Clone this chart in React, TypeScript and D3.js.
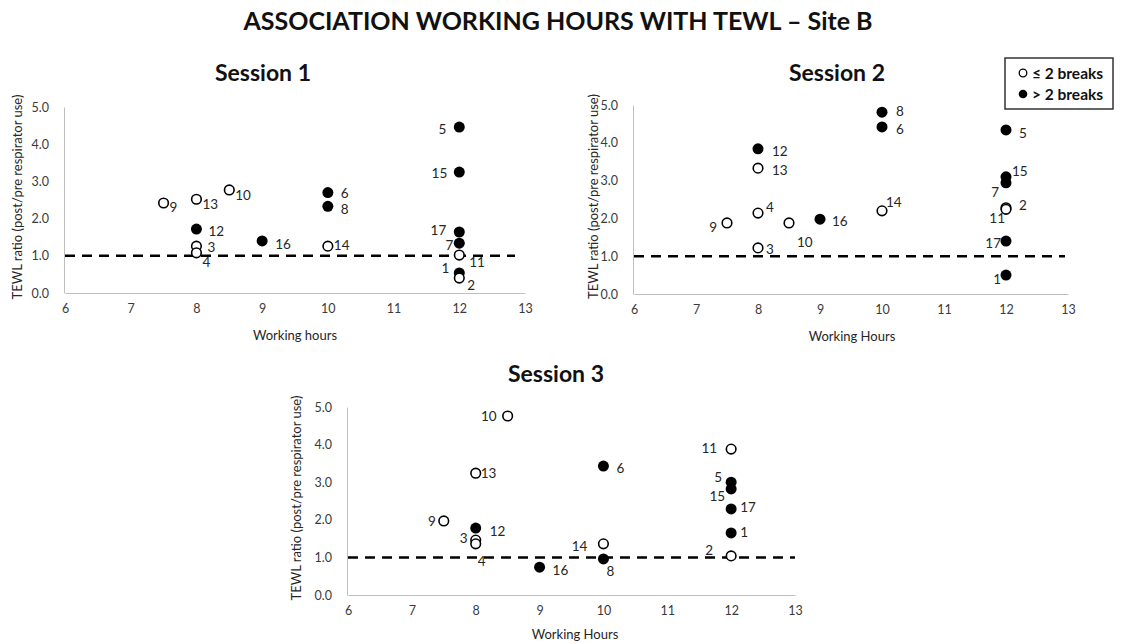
import React, { useEffect, useRef } from "react";
import * as d3 from "d3";

const width = 1124;
const height = 644;
const FONT = "Lato, 'Noto Sans', sans-serif";

const chartTitle = "ASSOCIATION WORKING HOURS WITH TEWL – Site B";
const xTicks = [6, 7, 8, 9, 10, 11, 12, 13];
const yTicks = [0, 1, 2, 3, 4, 5];
const reference = 1.0;
const legendLabels = ["≤ 2 breaks", "> 2 breaks"];

// Session 1
const ids1 = [9, 13, 10, 12, 3, 4, 16, 6, 8, 14, 5, 15, 17, 7, 11, 1, 2];
const hours1 = [7.5, 8, 8.5, 8, 8, 8, 9, 10, 10, 10, 12, 12, 12, 12, 12, 12, 12];
const tewl1 = [2.42, 2.52, 2.77, 1.72, 1.26, 1.08, 1.4, 2.7, 2.33, 1.26, 4.46, 3.25, 1.64, 1.34, 1.02, 0.54, 0.4];
const manyBreaks1 = [0, 0, 0, 1, 0, 0, 1, 1, 1, 0, 1, 1, 1, 1, 0, 1, 0];

// Session 2
const ids2 = [12, 13, 4, 3, 9, 10, 16, 8, 6, 14, 5, 15, 7, 2, 11, 17, 1];
const hours2 = [8, 8, 8, 8, 7.5, 8.5, 9, 10, 10, 10, 12, 12, 12, 12, 12, 12, 12];
const tewl2 = [3.84, 3.33, 2.14, 1.22, 1.88, 1.88, 1.98, 4.81, 4.42, 2.2, 4.34, 3.1, 2.94, 2.28, 2.24, 1.4, 0.5];
const manyBreaks2 = [1, 0, 0, 0, 0, 0, 1, 1, 1, 0, 1, 1, 1, 0, 0, 1, 1];

// Session 3
const ids3 = [10, 13, 9, 12, 3, 4, 16, 6, 14, 8, 11, 5, 15, 17, 1, 2];
const hours3 = [8.5, 8, 7.5, 8, 8, 8, 9, 10, 10, 10, 12, 12, 12, 12, 12, 12];
const tewl3 = [4.76, 3.24, 1.97, 1.78, 1.46, 1.36, 0.74, 3.43, 1.36, 0.96, 3.88, 3.0, 2.82, 2.29, 1.65, 1.04];
const manyBreaks3 = [0, 0, 0, 1, 0, 0, 1, 1, 0, 1, 0, 1, 1, 1, 1, 0];

// where each point's number sits relative to its marker: [dx, dy, anchor]
type Place = [number, number, string];
const place1: Record<number, Place> = {
  9: [6, 9, "start"], 13: [6, 10, "start"], 10: [6, 10, "start"], 12: [12, 7, "start"],
  3: [11, 6, "start"], 4: [6, 14, "start"], 16: [13, 8, "start"], 6: [13, 5, "start"],
  8: [13, 8, "start"], 14: [6, 4, "start"], 5: [-13, 7, "end"], 15: [-12, 6, "end"],
  17: [-13, 3, "end"], 7: [-6, 7, "end"], 11: [10, 12, "start"], 1: [-10, 0, "end"],
  2: [8, 12, "start"],
};
const place2: Record<number, Place> = {
  12: [14, 7, "start"], 13: [14, 7, "start"], 4: [8, -1, "start"], 3: [8, 6, "start"],
  9: [-10, 9, "end"], 10: [8, 24, "start"], 16: [12, 7, "start"], 8: [14, 4, "start"],
  6: [14, 7, "start"], 14: [4, -4, "start"], 5: [13, 8, "start"], 15: [6, -1, "start"],
  7: [-7, 14, "end"], 2: [13, 2, "start"], 11: [-1, 14, "end"], 17: [-5, 7, "end"],
  1: [-5, 9, "end"],
};
const place3: Record<number, Place> = {
  10: [-11, 5, "end"], 13: [5, 5, "start"], 9: [-8, 5, "end"], 12: [14, 8, "start"],
  3: [-8, 3, "end"], 4: [2, 22, "start"], 16: [13, 8, "start"], 6: [13, 7, "start"],
  14: [-16, 7, "end"], 8: [3, 17, "start"], 11: [-14, 4, "end"], 5: [-9, 0, "end"],
  15: [-6, 12, "end"], 17: [9, 3, "start"], 1: [9, 4, "start"], 2: [-18, -1, "end"],
};

const makePoints = (ids, hours, tewl, many) =>
  ids.map((id, i) => ({ id, hours: hours[i], tewl: tewl[i], many: many[i] === 1 }));

const panels = [
  {
    title: "Session 1", xLabel: "Working hours", points: makePoints(ids1, hours1, tewl1, manyBreaks1), place: place1,
    x0: 65, x1: 525, y0: 293, y1: 107, lineEnd: 515, titleX: 263, titleY: 81, xLabelX: 295, xLabelY: 340, yLabelX: 22,
  },
  {
    title: "Session 2", xLabel: "Working Hours", points: makePoints(ids2, hours2, tewl2, manyBreaks2), place: place2,
    x0: 634, x1: 1068, y0: 294, y1: 105, lineEnd: 1065, titleX: 837, titleY: 81, xLabelX: 852, xLabelY: 341, yLabelX: 598,
  },
  {
    title: "Session 3", xLabel: "Working Hours", points: makePoints(ids3, hours3, tewl3, manyBreaks3), place: place3,
    x0: 348, x1: 795, y0: 595, y1: 407, lineEnd: 795, titleX: 556, titleY: 382, xLabelX: 575, xLabelY: 639, yLabelX: 301,
  },
];

function Panel({ p }) {
  const xAxisRef = useRef(null);
  const yAxisRef = useRef(null);

  const xScale = d3.scaleLinear().domain([6, 13]).range([p.x0, p.x1]);
  const yScale = d3.scaleLinear().domain([0, 5]).range([p.y0, p.y1]);

  useEffect(() => {
    const xAxis = d3.axisBottom(xScale).tickValues(xTicks).tickSize(0).tickPadding(11).tickFormat(d3.format("d"));
    const gx = d3.select(xAxisRef.current).call(xAxis);
    gx.select(".domain").attr("stroke", "#bfbfbf").attr("stroke-width", 1);
    gx.selectAll("text").attr("fill", "#3a3a3a").style("font-size", "12.5px").style("font-family", FONT);

    const yAxis = d3.axisLeft(yScale).tickValues(yTicks).tickSize(0).tickPadding(15).tickFormat(d3.format(".1f"));
    const gy = d3.select(yAxisRef.current).call(yAxis);
    gy.select(".domain").attr("stroke", "#bfbfbf").attr("stroke-width", 1);
    gy.selectAll("text").attr("fill", "#3a3a3a").style("font-size", "12.5px").style("font-family", FONT);
  });

  const midY = (p.y0 + p.y1) / 2 - 3;

  return (
    <g>
      <text x={p.titleX} y={p.titleY} textAnchor="middle" fontFamily={FONT} fontWeight="bold" fontSize={23} fill="#111">
        {p.title}
      </text>
      <g ref={xAxisRef} transform={`translate(0, ${p.y0})`} />
      <g ref={yAxisRef} transform={`translate(${p.x0 - 1}, 0)`} />
      <line
        x1={p.x0}
        x2={p.lineEnd}
        y1={yScale(reference)}
        y2={yScale(reference)}
        stroke="#000"
        strokeWidth={2.5}
        strokeDasharray="10 7"
      />
      {p.points.map((d) => (
        <circle
          key={d.id}
          cx={xScale(d.hours)}
          cy={yScale(d.tewl)}
          r={d.many ? 5.5 : 4.8}
          fill={d.many ? "#000" : "#fff"}
          stroke="#000"
          strokeWidth={d.many ? 0 : 1.6}
        />
      ))}
      {p.points.map((d) => {
        const [dx, dy, anchor] = p.place[d.id];
        return (
          <text
            key={`l${d.id}`}
            x={xScale(d.hours) + dx}
            y={yScale(d.tewl) + dy}
            textAnchor={anchor}
            fontFamily={FONT}
            fontSize={13.5}
            fill="#262626"
          >
            {d.id}
          </text>
        );
      })}
      <text x={p.xLabelX} y={p.xLabelY} textAnchor="middle" fontFamily={FONT} fontSize={13} fill="#262626">
        {p.xLabel}
      </text>
      <text
        transform={`translate(${p.yLabelX}, ${midY}) rotate(-90)`}
        textAnchor="middle"
        fontFamily={FONT}
        fontSize={13}
        fill="#262626"
      >
        TEWL ratio (post/pre respirator use)
      </text>
    </g>
  );
}

export default function App() {
  return (
    <svg width={width} height={height} style={{ position: "absolute", left: 0, top: 0, background: "#fff" }}>
      <rect width={width} height={height} fill="#fff" />
      <text x={558} y={30} textAnchor="middle" fontFamily={FONT} fontWeight="bold" fontSize={25} fill="#111">
        {chartTitle}
      </text>
      {panels.map((p) => (
        <Panel key={p.title} p={p} />
      ))}
      <g transform="translate(1005, 58)">
        <rect width={108} height={51} fill="#fff" stroke="#333" strokeWidth={1.5} />
        {legendLabels.map((label, i) => (
          <g key={label} transform={`translate(0, ${15 + i * 21})`}>
            <circle
              cx={18}
              cy={0}
              r={i === 0 ? 3.8 : 4.3}
              fill={i === 0 ? "#fff" : "#000"}
              stroke="#000"
              strokeWidth={i === 0 ? 1.3 : 0}
            />
            <text x={27} y={5.5} fontFamily={FONT} fontWeight="bold" fontSize={15.5} fill="#111">
              {label}
            </text>
          </g>
        ))}
      </g>
    </svg>
  );
}
